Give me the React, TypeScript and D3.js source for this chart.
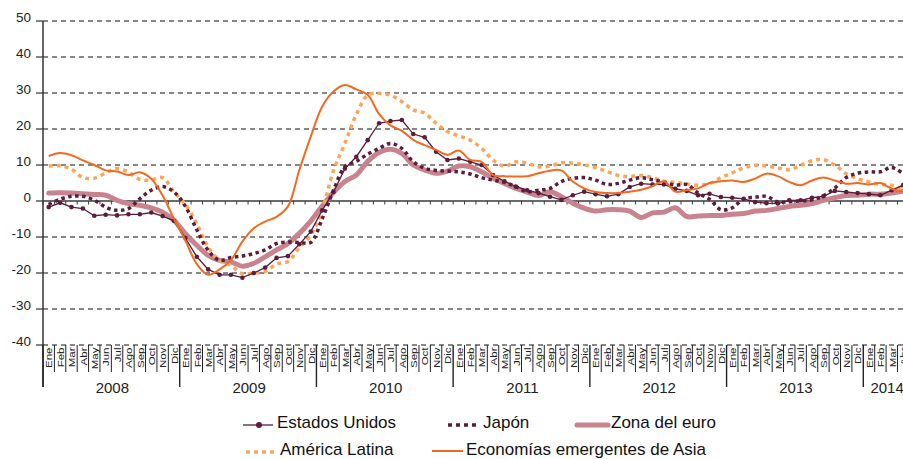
import React from 'react';
import * as d3 from 'd3';

const monthLabels = ['Ene', 'Feb', 'Mar', 'Abr', 'May', 'Jun', 'Jul', 'Ago', 'Sep', 'Oct', 'Nov', 'Dic'];
const yearLabels = ['2008', '2009', '2010', '2011', '2012', '2013', '2014'];
const yTicks = [50, 40, 30, 20, 10, 0, -10, -20, -30, -40];

// Monthly values, Jan 2008 – Apr 2014
const estadosUnidos = [
  -1.7, -0.5, -1.7, -2.1, -4.1, -3.8, -4.0, -3.7, -3.7, -3.2, -4.2, -5.5,
  -10.3, -15.5, -19.0, -20.5, -20.5, -21.3, -20.0, -18.5, -15.8, -15.3, -12.0, -8.5,
  -2.6, 2.5, 9.0, 12.3, 16.9, 21.6, 22.2, 22.5, 18.6, 17.7, 13.7, 11.4,
  11.8, 10.9, 10.0, 7.2, 5.5, 4.0, 3.0, 2.2, 1.2, 0.3, 1.6, 2.6,
  1.9, 1.3, 1.9, 3.9, 4.8, 4.6, 4.6, 3.4, 2.8, 1.6, 2.0, 1.1,
  0.9, 0.6, -0.3, -0.6, -0.7, 0.2, 0.2, 0.9, 1.3, 2.8, 2.5, 2.2,
  1.9, 1.6, 3.0, 4.4,
];
const japon = [
  -1.0, 0.5, 1.3, 1.3, 0.2, -1.7, -2.6, -2.1, 0.6, 3.0, 4.0, 2.5,
  -1.5, -8.0, -13.7, -16.5, -15.7, -15.3, -14.6, -13.6, -11.8, -11.4, -11.5, -11.5,
  -5.0, 3.0, 9.5, 11.0, 13.0, 14.6, 16.0, 14.6, 10.9, 9.1, 8.5, 8.3,
  8.1, 7.5, 6.5, 5.8, 5.2, 4.0, 2.6, 3.0, 3.5, 5.4, 6.3, 6.5,
  5.8, 4.6, 4.9, 5.8, 6.5, 5.9, 5.2, 4.4, 4.6, 2.2, 0.5, -2.4,
  -1.9, 0.6, 1.0, 1.3, -0.3, -0.2, 0.0, 0.3, 1.5, 3.6, 6.5, 7.7,
  8.1, 8.1, 9.3, 7.6,
];
const zonaEuro = [
  2.2, 2.3, 2.2, 2.0, 1.8, 1.6, 0.2, -0.7, -1.2, -1.9, -3.1, -5.4,
  -9.1, -12.3, -15.1, -16.5, -16.9, -18.1, -17.3, -15.5, -13.6, -11.8, -9.0, -5.6,
  -1.4, 2.4, 5.4, 7.2, 11.0, 13.5, 14.4, 13.2, 10.0, 8.6, 7.7, 8.3,
  9.7, 9.5, 8.1, 6.3, 4.9, 3.5, 2.5, 1.5, 2.6, 1.2, -0.6, -2.0,
  -2.8, -2.4, -2.4, -2.8, -4.6, -3.3, -3.1, -1.9, -4.3, -4.2, -4.0, -4.0,
  -3.7, -3.5, -2.8, -2.6, -2.1, -1.5, -1.2, -0.7, 0.2, 0.9, 1.5, 1.6,
  1.9, 1.9, 2.2, 2.8,
];
const americaLatina = [
  9.7, 9.8, 8.8, 6.5, 6.3, 7.8, 9.0, 8.0, 6.0, 5.8, 6.5, 2.5,
  -1.0, -6.3, -12.8, -16.5, -17.9, -20.2, -20.0, -19.6, -17.5, -16.8, -13.0, -9.5,
  -2.5, 8.5, 16.0, 24.0, 29.4, 29.9, 29.4, 27.6, 25.3, 24.4, 21.6, 19.3,
  18.1, 16.9, 14.6, 11.4, 9.7, 10.9, 10.5, 9.5, 9.7, 10.6, 10.5, 10.0,
  9.3, 8.2, 7.1, 6.8, 7.1, 6.5, 5.5, 5.2, 4.7, 4.4, 4.8, 6.5,
  7.8, 9.2, 9.9, 9.7, 9.2, 8.7, 9.9, 11.2, 11.5, 10.0, 7.6, 6.2,
  5.3, 4.6, 4.4, 3.2,
];
const asiaEmergente = [
  12.5, 13.3, 12.7, 11.3, 10.0, 8.5, 8.2, 7.2, 8.0, 6.2, 1.5, -5.0,
  -11.0, -17.5, -20.5, -19.0, -16.4, -11.3, -7.6, -5.7, -4.4, -1.5, 8.6, 17.9,
  26.2, 30.4, 32.2, 31.0, 29.5, 24.2, 21.0, 19.5, 17.0, 15.5, 14.2, 12.8,
  14.0, 11.4, 10.9, 7.2, 6.9, 6.8, 6.9, 7.7, 8.4, 8.5, 5.4, 3.5,
  2.5, 2.2, 2.2, 2.6, 3.1, 4.1, 5.5, 2.6, 3.0, 3.5, 5.0, 5.5,
  5.7, 5.3, 6.2, 7.6, 6.9, 5.3, 4.4, 5.7, 6.5, 5.7, 4.8, 5.0,
  4.6, 5.0, 3.4, 2.5,
];

const seriesNames = ['Estados Unidos', 'Japón', 'Zona del euro', 'América Latina', 'Economías emergentes de Asia'];

const W = 903;
const H = 459;
const FONT = 'Liberation Sans, Arial, sans-serif';

const C_DARK = '#5a1d3a';
const C_PINK = '#c8838e';
const C_LORANGE = '#fba65b';
const C_ORANGE = '#f26a22';

export default function App() {
  const nMonths = estadosUnidos.length;
  const x0 = 43;
  const monthW = 11.393;
  const x = d3.scaleLinear().domain([0, nMonths]).range([x0, x0 + nMonths * monthW]);
  const y = d3.scaleLinear().domain([-40, 50]).range([345, 21]);

  const mk = (data: number[], curve: any) =>
    d3.line<number>().x((_, i) => x(i + 0.5)).y((d) => y(d)).curve(curve)(data) || '';

  const smooth = d3.curveCatmullRom.alpha(0.5);

  const bandTop = y(-40);
  const monthBottom = 372;
  const yearBottom = 387;

  const boundaries = d3.range(0, nMonths + 1);

  return (
    <svg
      width={W}
      height={H}
      style={{ position: 'absolute', left: 0, top: 0, background: '#fff' }}
      fontFamily={FONT}
    >
      <rect x={0} y={0} width={W} height={H} fill="#fff" />
      {/* gridlines */}
      {yTicks.filter((t) => t !== 0).map((t) => (
        <line key={'g' + t} x1={x0} x2={W} y1={y(t)} y2={y(t)} stroke="#111" strokeWidth={1} strokeDasharray="5,4" />
      ))}
      {/* y axis */}
      <line x1={x0} x2={x0} y1={y(50)} y2={yearBottom} stroke="#333" strokeWidth={1.5} />
      {yTicks.map((t) => (
        <g key={'yt' + t}>
          <line x1={x0 - 7} x2={x0} y1={y(t)} y2={y(t)} stroke="#333" strokeWidth={1.2} />
          <text x={31} y={y(t) + 1} textAnchor="end" fontSize={13.5} fill="#222">
            {t}
          </text>
        </g>
      ))}
      {/* month separators and labels */}
      {boundaries.map((b) => (
        <line
          key={'mb' + b}
          x1={x(b)}
          x2={x(b)}
          y1={bandTop}
          y2={b % 12 === 0 ? yearBottom : monthBottom}
          stroke="#222"
          strokeWidth={b % 12 === 0 ? 1.4 : 1}
        />
      ))}
      {d3.range(nMonths).map((i) => (
        <text
          key={'ml' + i}
          transform={`translate(${x(i + 0.5) + 3.8},${bandTop + 2.5}) rotate(-90) scale(1,0.85)`}
          textAnchor="end"
          fontSize={11.5}
          fill="#222"
        >
          {monthLabels[i % 12]}
        </text>
      ))}
      {yearLabels.map((yl, k) => {
        const start = k * 12;
        const end = Math.min(nMonths, start + 12);
        return (
          <text key={'yl' + yl} x={(x(start) + x(end)) / 2 + 1} y={393} textAnchor="middle" fontSize={15} fill="#222">
            {yl}
          </text>
        );
      })}
      {/* zero line with month ticks */}
      <line x1={x0} x2={W} y1={y(0)} y2={y(0)} stroke="#3a3a3a" strokeWidth={1.5} />
      {boundaries.map((b) => (
        <line key={'zt' + b} x1={x(b)} x2={x(b)} y1={y(0)} y2={y(0) + 3.5} stroke="#3a3a3a" strokeWidth={1} />
      ))}
      {/* series */}
      <path d={mk(zonaEuro, smooth)} fill="none" stroke={C_PINK} strokeWidth={5} strokeLinecap="round" />
      <path d={mk(americaLatina, smooth)} fill="none" stroke={C_LORANGE} strokeWidth={3.5} strokeDasharray="4,4" />
      <path d={mk(japon, smooth)} fill="none" stroke={C_DARK} strokeWidth={3.5} strokeDasharray="3.5,3.5" />
      <path d={mk(estadosUnidos, d3.curveLinear)} fill="none" stroke={C_DARK} strokeWidth={1.3} />
      {estadosUnidos.map((v, i) => (
        <circle key={'eu' + i} cx={x(i + 0.5)} cy={y(v)} r={2.3} fill={C_DARK} />
      ))}
      <path d={mk(asiaEmergente, smooth)} fill="none" stroke={C_ORANGE} strokeWidth={2} />

      {/* legend */}
      <g fontSize={17} fill="#111">
        <line x1={243} x2={273} y1={425} y2={425} stroke={C_DARK} strokeWidth={1.3} />
        <circle cx={259} cy={425} r={3} fill={C_DARK} />
        <text x={277} y={428}>{seriesNames[0]}</text>

        <line x1={448} x2={478} y1={425} y2={425} stroke={C_DARK} strokeWidth={3.5} strokeDasharray="4,4" />
        <text x={483} y={428}>{seriesNames[1]}</text>

        <line x1={577} x2={608} y1={425} y2={425} stroke={C_PINK} strokeWidth={5} strokeLinecap="round" />
        <text x={611} y={428}>{seriesNames[2]}</text>

        <line x1={246} x2={276} y1={452} y2={452} stroke={C_LORANGE} strokeWidth={3.5} strokeDasharray="4,4" />
        <text x={280} y={455}>{seriesNames[3]}</text>

        <line x1={432} x2={463} y1={451} y2={451} stroke={C_ORANGE} strokeWidth={2} />
        <text x={466} y={455}>{seriesNames[4]}</text>
      </g>
    </svg>
  );
}
